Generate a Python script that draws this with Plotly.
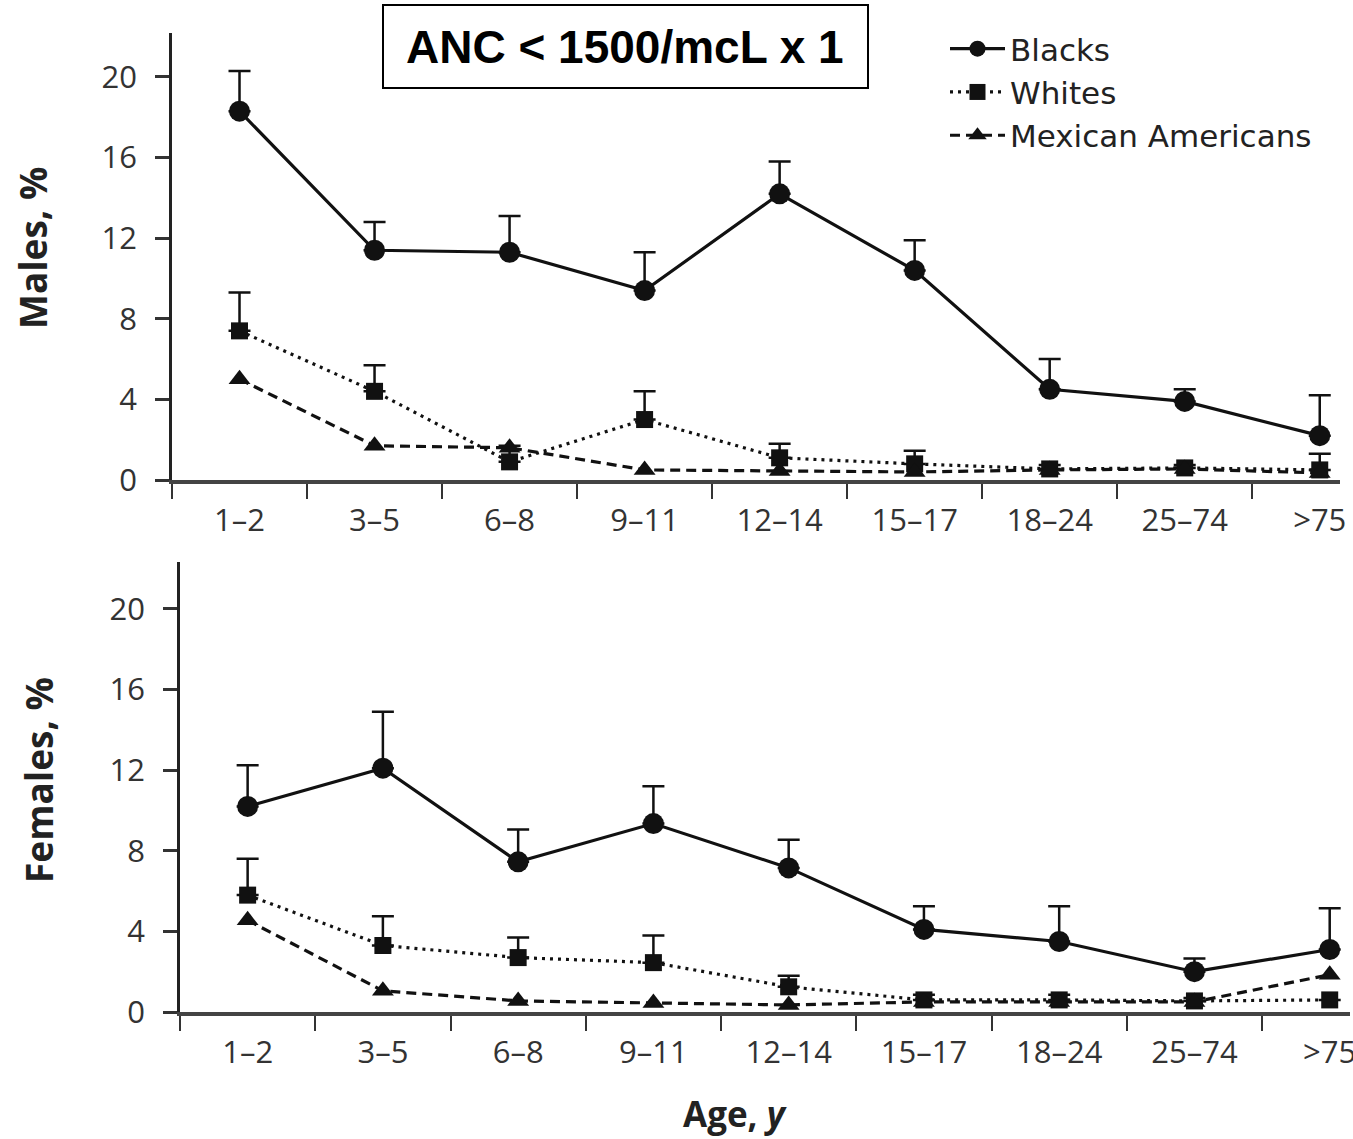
import plotly.graph_objects as go

W, H = 1353, 1139

categories = ["1–2", "3–5", "6–8", "9–11", "12–14", "15–17", "18–24", "25–74", ">75"]

# Males (%)
blacks_m = [18.3, 11.4, 11.3, 9.4, 14.2, 10.4, 4.5, 3.9, 2.2]
blacks_m_err = [2.0, 1.4, 1.8, 1.9, 1.6, 1.5, 1.5, 0.6, 2.0]
whites_m = [7.4, 4.4, 0.9, 3.0, 1.1, 0.8, 0.55, 0.6, 0.5]
whites_m_err = [1.9, 1.3, 0.8, 1.4, 0.7, 0.65, 0.2, 0.15, 0.8]
mex_m = [5.0, 1.7, 1.6, 0.5, 0.45, 0.4, 0.5, 0.55, 0.35]

# Females (%)
blacks_f = [10.2, 12.1, 7.45, 9.35, 7.15, 4.1, 3.5, 2.0, 3.1]
blacks_f_err = [2.05, 2.8, 1.6, 1.85, 1.4, 1.15, 1.75, 0.65, 2.05]
whites_f = [5.8, 3.3, 2.7, 2.45, 1.25, 0.6, 0.6, 0.55, 0.6]
whites_f_err = [1.8, 1.45, 1.0, 1.35, 0.55, 0.25, 0.25, 0.15, 0.0]
mex_f = [4.55, 1.05, 0.55, 0.45, 0.35, 0.5, 0.5, 0.5, 1.85]

y_ticks = [0, 4, 8, 12, 16, 20]

INK = "#111111"
TXT = "#222222"
FONT = "Open Sans"


def px_x(p):
    return p / W


def px_y(p):
    return 1 - p / H


fig = go.Figure()

series = [
    ("Blacks", "circle", 21, "solid", (blacks_m, blacks_m_err), (blacks_f, blacks_f_err)),
    ("Whites", "square", 17, "3px,5px", (whites_m, whites_m_err), (whites_f, whites_f_err)),
    ("Mexican Americans", "triangle-up", 19, "10px,6px", (mex_m, None), (mex_f, None)),
]

for name, sym, size, dash, male, female in series:
    for (vals, errs), xa, ya, show in [(male, "x", "y", True), (female, "x2", "y2", False)]:
        err = None
        if errs is not None:
            err = dict(type="data", symmetric=False, array=errs,
                       arrayminus=[0] * len(errs), color=INK, thickness=2.5, width=11)
        fig.add_trace(go.Scatter(
            x=categories, y=vals, name=name, mode="lines+markers",
            xaxis=xa, yaxis=ya, showlegend=show, cliponaxis=False,
            line=dict(color=INK, width=3.2, dash=dash),
            marker=dict(symbol=sym, size=size, color=INK),
            error_y=err,
        ))

xcommon = dict(type="category", categoryorder="array", categoryarray=categories,
               range=[-0.5, 8.15], tickson="boundaries", ticks="outside", ticklen=15,
               tickwidth=2, tickcolor="#333", showline=True, linewidth=4, linecolor="#444",
               showgrid=False, zeroline=False, ticklabelstandoff=10, automargin=False,
               tickfont=dict(family=FONT, size=31, color="#333"))
ycommon = dict(tickvals=y_ticks, ticks="outside", ticklen=14, tickwidth=2.5, tickcolor="#333",
               showline=True, linewidth=2.5, linecolor="#222", showgrid=False, zeroline=False,
               ticklabelstandoff=12, automargin=False,
               tickfont=dict(family=FONT, size=31, color="#333"))

fig.update_layout(
    width=W, height=H, margin=dict(l=0, r=0, t=0, b=0, autoexpand=False),
    paper_bgcolor="white", plot_bgcolor="white",
    xaxis=dict(xcommon, domain=[px_x(172), px_x(1340)], anchor="y"),
    yaxis=dict(ycommon, domain=[px_y(480), px_y(33)], range=[0, 22.18], anchor="x"),
    xaxis2=dict(xcommon, domain=[px_x(180), px_x(1350)], anchor="y2"),
    yaxis2=dict(ycommon, domain=[px_y(1012), px_y(562)], range=[0, 22.33], anchor="x2"),
    legend=dict(x=px_x(945), y=px_y(22), xanchor="left", yanchor="top",
                bgcolor="rgba(0,0,0,0)", font=dict(family="DejaVu Sans", size=31, color=TXT),
                tracegroupgap=0, itemwidth=55),
    showlegend=True,
)

fig.add_shape(type="rect", xref="paper", yref="paper",
              x0=px_x(383), x1=px_x(868), y0=px_y(88), y1=px_y(5),
              line=dict(color="black", width=2), fillcolor="white", layer="below")

fig.add_annotation(text="<b>ANC < 1500/mcL x 1</b>", xref="paper", yref="paper",
                   x=px_x(625), y=px_y(47), xanchor="center", yanchor="middle", showarrow=False,
                   font=dict(family="Liberation Sans", size=46, color="black"))

fig.add_annotation(text="<b>Males, %</b>", xref="paper", yref="paper",
                   x=px_x(33), y=px_y(248), xanchor="center", yanchor="middle",
                   textangle=-90, showarrow=False,
                   font=dict(family=FONT, size=37, color=TXT))
fig.add_annotation(text="<b>Females, %</b>", xref="paper", yref="paper",
                   x=px_x(38), y=px_y(780), xanchor="center", yanchor="middle",
                   textangle=-90, showarrow=False,
                   font=dict(family=FONT, size=37, color=TXT))
fig.add_annotation(text="<b>Age, <i>y</i></b>", xref="paper", yref="paper",
                   x=px_x(735), y=px_y(1113), xanchor="center", yanchor="middle",
                   showarrow=False,
                   font=dict(family=FONT, size=35, color=TXT))

fig.write_html("out.html", config={"displayModeBar": False},
               post_script="document.documentElement.style.margin='0';"
                           "document.body.style.margin='0';document.body.style.overflow='hidden';")
